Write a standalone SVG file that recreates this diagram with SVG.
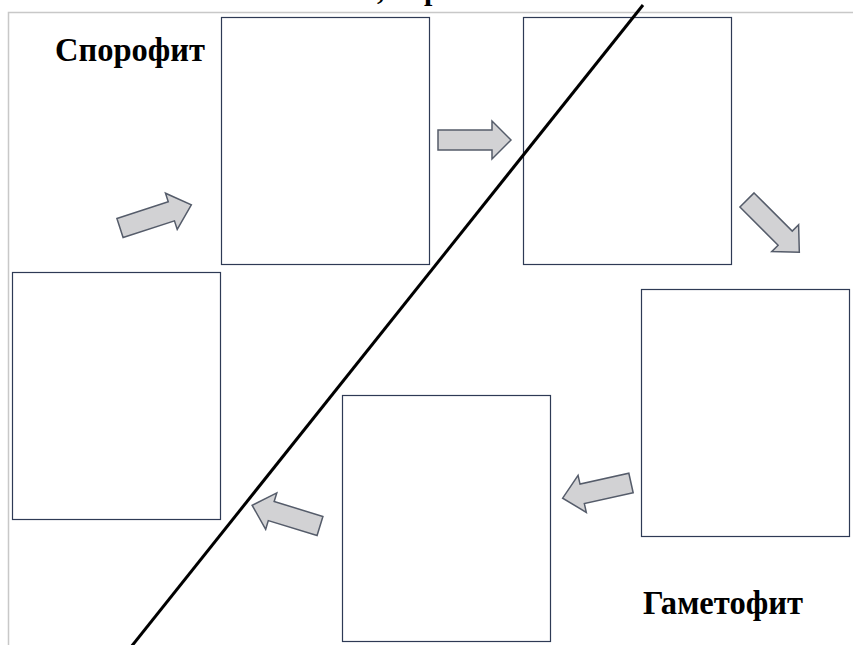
<svg xmlns="http://www.w3.org/2000/svg" width="853" height="645" viewBox="0 0 853 645">
<style>
.box{fill:#fff;stroke:#2e3a55;stroke-width:1.2}
.arr{fill:#d2d2d4;stroke:#555c6a;stroke-width:1.5;stroke-linejoin:miter}
.lbl{font-family:"Liberation Serif","Times New Roman",serif;font-weight:bold;fill:#000}
</style>
<rect width="853" height="645" fill="#fff"/>
<path d="M8.5,645 V12.5 H853" fill="none" stroke="#c8c8c8" stroke-width="1.5"/>
<text class="lbl" x="377" y="-1" font-size="30">,</text>
<text class="lbl" x="424" y="0" font-size="30">р</text>
<g id="box-top-left"><rect class="box" x="221.5" y="17.5" width="208" height="247"/></g>
<g id="box-top-right"><rect class="box" x="523.5" y="17.5" width="208" height="247"/></g>
<g id="box-left"><rect class="box" x="12.5" y="272.5" width="208" height="247"/></g>
<g id="box-right"><rect class="box" x="641.5" y="289.5" width="208" height="247"/></g>
<g id="box-bottom"><rect class="box" x="342.5" y="395.5" width="208" height="246"/></g>
<g id="connectors">
<path class="arr" transform="translate(120,228) rotate(-18)" d="M0,-10 H54 V-19 L75,0 L54,19 V10 H0 Z"/>
<path class="arr" transform="translate(438,140)" d="M0,-10 H54 V-19 L73,0 L54,19 V10 H0 Z"/>
<path class="arr" transform="translate(747,200) rotate(45)" d="M0,-10 H54 V-19 L74,0 L54,19 V10 H0 Z"/>
<path class="arr" transform="translate(631,483) rotate(167.5)" d="M0,-10 H50 V-19 L70,0 L50,19 V10 H0 Z"/>
<path class="arr" transform="translate(320,526) rotate(197)" d="M0,-10 H51 V-19 L71,0 L51,19 V10 H0 Z"/>
</g>
<line x1="643" y1="5" x2="131" y2="647" stroke="#000" stroke-width="3"/>
<g id="label-sporophyte"><text class="lbl" x="55" y="61" font-size="34" textLength="150" lengthAdjust="spacingAndGlyphs">Спорофит</text></g>
<g id="label-gametophyte"><text class="lbl" x="643" y="614" font-size="33" textLength="160" lengthAdjust="spacingAndGlyphs">Гаметофит</text></g>
</svg>
